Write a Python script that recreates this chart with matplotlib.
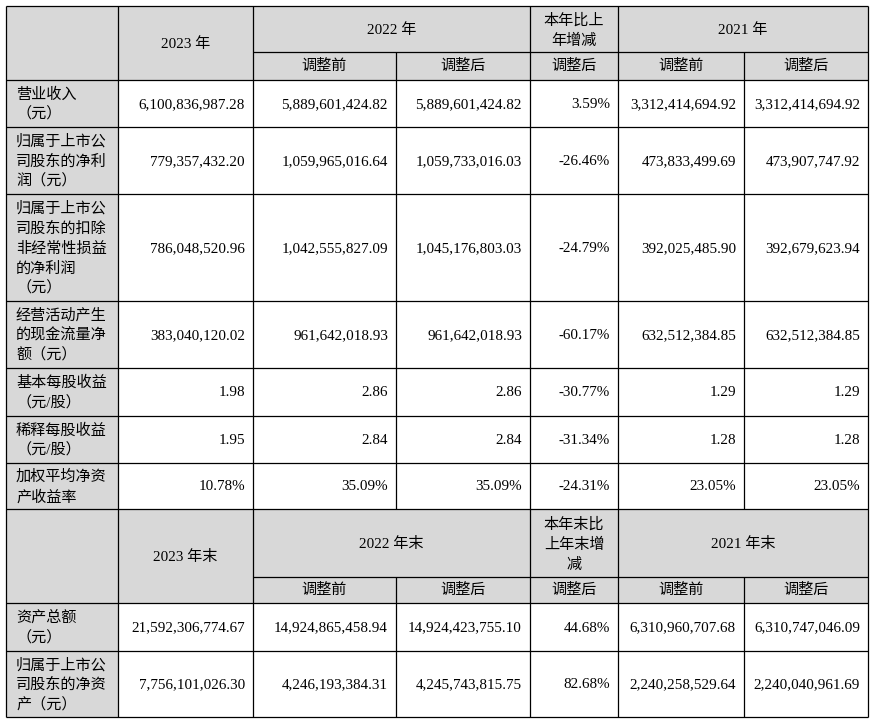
import matplotlib
matplotlib.use("Agg")
import matplotlib.pyplot as plt
from matplotlib.patches import Rectangle

plt.rcParams['font.family'] = ['Liberation Serif', 'Noto Sans CJK SC', 'DejaVu Sans']

# ---------------- data ----------------
hdr1_years = ["2023 年", "2022 年", ["本年比上", "年增减"], "2021 年"]
hdr2_years = ["2023 年末", "2022 年末", ["本年末比", "上年末增", "减"], "2021 年末"]
sub_hdr = ["调整前", "调整后", "调整后", "调整前", "调整后"]

labels1 = [["营业收入", "（元）"],
           ["归属于上市公", "司股东的净利", "润（元）"],
           ["归属于上市公", "司股东的扣除", "非经常性损益", "的净利润", "（元）"],
           ["经营活动产生", "的现金流量净", "额（元）"],
           ["基本每股收益", "（元/股）"],
           ["稀释每股收益", "（元/股）"],
           ["加权平均净资", "产收益率"]]
v2023 = ["6,100,836,987.28", "779,357,432.20", "786,048,520.96", "383,040,120.02", "1.98", "1.95", "10.78%"]
v2022_before = ["5,889,601,424.82", "1,059,965,016.64", "1,042,555,827.09", "961,642,018.93", "2.86", "2.84", "35.09%"]
v2022_after = ["5,889,601,424.82", "1,059,733,016.03", "1,045,176,803.03", "961,642,018.93", "2.86", "2.84", "35.09%"]
v_change = ["3.59%", "-26.46%", "-24.79%", "-60.17%", "-30.77%", "-31.34%", "-24.31%"]
v2021_before = ["3,312,414,694.92", "473,833,499.69", "392,025,485.90", "632,512,384.85", "1.29", "1.28", "23.05%"]
v2021_after = ["3,312,414,694.92", "473,907,747.92", "392,679,623.94", "632,512,384.85", "1.29", "1.28", "23.05%"]

labels2 = [["资产总额", "（元）"],
           ["归属于上市公", "司股东的净资", "产（元）"]]
e2023 = ["21,592,306,774.67", "7,756,101,026.30"]
e2022_before = ["14,924,865,458.94", "4,246,193,384.31"]
e2022_after = ["14,924,423,755.10", "4,245,743,815.75"]
e_change = ["44.68%", "82.68%"]
e2021_before = ["6,310,960,707.68", "2,240,258,529.64"]
e2021_after = ["6,310,747,046.09", "2,240,040,961.69"]

# ---------------- layout (pixels) ----------------
W, H = 873, 726
cols = [6, 118, 253, 396, 530, 618, 744, 868]
sec1 = [6, 52, 80]               # header top, sub line, header bottom
body1 = [80, 127, 194, 301, 368, 416, 463, 509]
sec2 = [509, 577, 603]
body2 = [603, 651, 717]
GRAY = "#d8d8d8"
FS = 10.9
LC = "black"
LW = 0.9

fig = plt.figure(figsize=(W / 100, H / 100), dpi=100)
ax = fig.add_axes([0, 0, 1, 1])
ax.set_xlim(0, W)
ax.set_ylim(H, 0)
ax.axis("off")


def hline(y, x0, x1):
    ax.plot([x0, x1], [y, y], color=LC, lw=LW, solid_capstyle="butt")


def vline(x, y0, y1):
    ax.plot([x, x], [y0, y1], color=LC, lw=LW, solid_capstyle="butt")


def multiline(x, yc, lines, pitch, ha):
    n = len(lines)
    for i, s in enumerate(lines):
        y = yc + (i - (n - 1) / 2) * pitch
        ax.text(x, y, s, ha=ha, va="center", fontsize=FS)


def draw_header(top, mid, bot, years):
    ax.add_patch(Rectangle((cols[0], top), cols[-1] - cols[0], bot - top, color=GRAY, lw=0))
    multiline((cols[1] + cols[2]) / 2, (top + bot) / 2 + 1, [years[0]], 20, "center")
    multiline((cols[2] + cols[4]) / 2, (top + mid) / 2 + 1, [years[1]], 20, "center")
    multiline((cols[4] + cols[5]) / 2, (top + mid) / 2 + 1.5, years[2], 20, "center")
    multiline((cols[5] + cols[7]) / 2, (top + mid) / 2 + 1, [years[3]], 20, "center")
    for j, (c0, c1) in enumerate([(2, 3), (3, 4), (4, 5), (5, 6), (6, 7)]):
        multiline((cols[c0] + cols[c1]) / 2, (mid + bot) / 2, [sub_hdr[j]], 20, "center")
    hline(mid, cols[2], cols[7])
    vline(cols[3], mid, bot)
    vline(cols[6], mid, bot)


def draw_body(edges, labels, columns):
    ax.add_patch(Rectangle((cols[0], edges[0]), cols[1] - cols[0], edges[-1] - edges[0], color=GRAY, lw=0))
    for i in range(len(labels)):
        yc = (edges[i] + edges[i + 1]) / 2 + 1
        multiline(cols[0] + 10, yc, labels[i], 20, "left")
        for k, vals in enumerate(columns):
            ax.text(cols[k + 2] - 8, yc, vals[i], ha="right", va="center", fontsize=FS)
    for y in edges:
        hline(y, cols[0], cols[-1])
    vline(cols[3], edges[0], edges[-1])
    vline(cols[6], edges[0], edges[-1])


draw_header(sec1[0], sec1[1], sec1[2], hdr1_years)
draw_body(body1, labels1, [v2023, v2022_before, v2022_after, v_change, v2021_before, v2021_after])
draw_header(sec2[0], sec2[1], sec2[2], hdr2_years)
draw_body(body2, labels2, [e2023, e2022_before, e2022_after, e_change, e2021_before, e2021_after])

# top edge and full-height verticals
hline(sec1[0], cols[0], cols[-1])
for x in [cols[0], cols[1], cols[2], cols[4], cols[5], cols[7]]:
    vline(x, sec1[0], body2[-1])

fig.savefig("out.png", dpi=100, facecolor="white")
